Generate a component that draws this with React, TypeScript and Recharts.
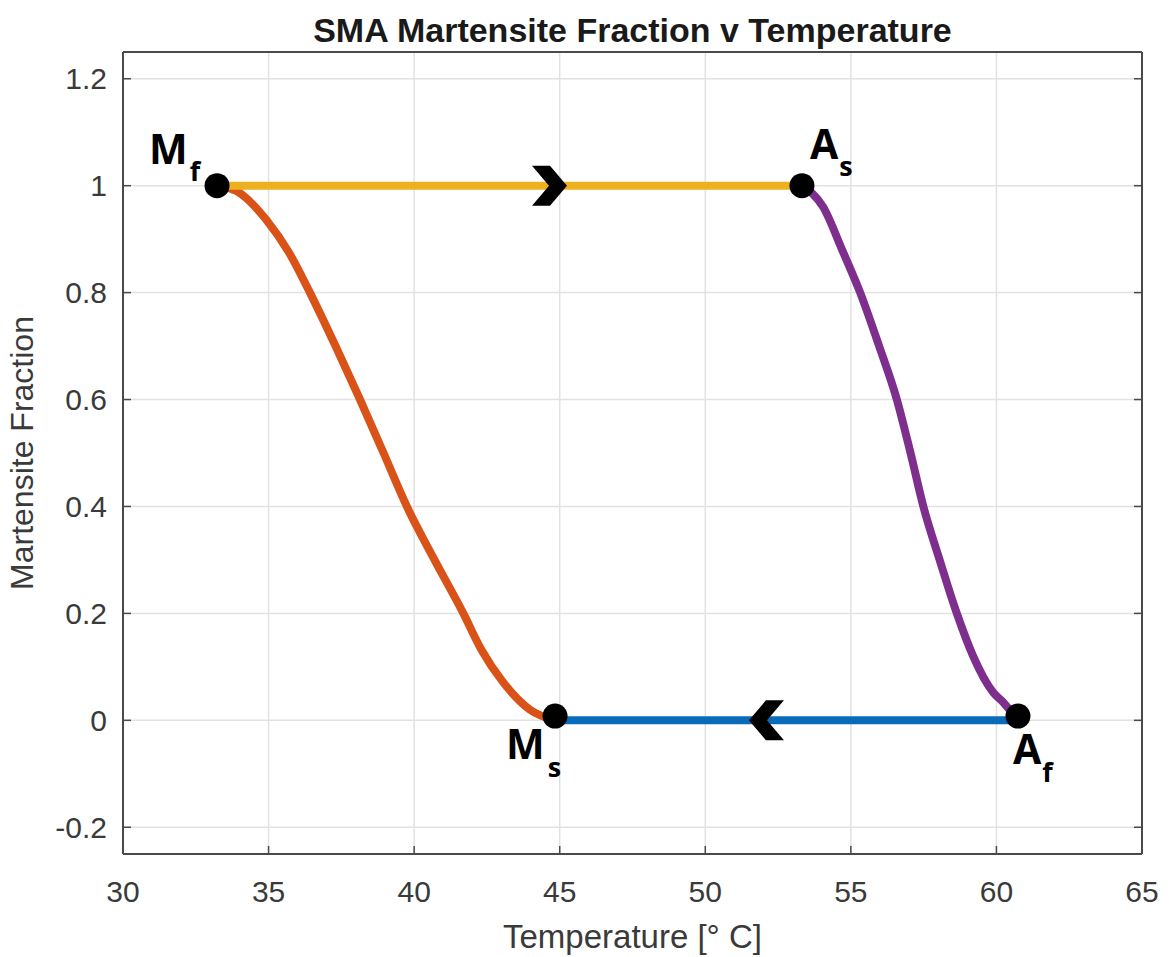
import React from "react"
import { ComposedChart, Line, Scatter, XAxis, YAxis, CartesianGrid } from "recharts"

// axis ticks
const xTicks = [30, 35, 40, 45, 50, 55, 60, 65]
const yTicks = [-0.2, 0, 0.2, 0.4, 0.6, 0.8, 1, 1.2]

// cooling: martensite forms (Ms -> Mf)
const coolTemp = [33.23, 33.9, 34.94, 35.7, 36.42, 37.3, 38.14, 38.95, 39.75, 40.7, 41.69, 42.3, 43.06, 43.98, 44.84]
const coolFrac = [1, 0.99, 0.935, 0.875, 0.8, 0.7, 0.6, 0.5, 0.4, 0.3, 0.2, 0.133, 0.071, 0.02, 0]

// heating: austenite forms (As -> Af)
const heatTemp = [53.32, 54.05, 54.7, 55.32, 55.97, 56.58, 57.05, 57.49, 58.05, 58.64, 59.2, 59.89, 60.23, 60.74]
const heatFrac = [1, 0.96, 0.88, 0.8, 0.7, 0.6, 0.5, 0.4, 0.3, 0.2, 0.12, 0.052, 0.034, 0]

// flat segments
const topTemp = [33.23, 53.32]
const topFrac = [1, 1]
const bottomTemp = [44.84, 60.74]
const bottomFrac = [0, 0]

// transition points
const pointName = ["M", "A", "M", "A"]
const pointSub = ["f", "s", "s", "f"]
const pointTemp = [33.23, 53.32, 44.84, 60.74]
const pointFrac = [1, 1, 0.008, 0.008]

// direction arrows
const arrowTemp = [45.25, 51.5]
const arrowFrac = [1, 0]
const arrowDir = ["right", "left"]

const zip = (ts: number[], fs: number[]) => ts.map((t, i) => ({ t, f: fs[i] }))

const coolData = zip(coolTemp, coolFrac)
const heatData = zip(heatTemp, heatFrac)
const topData = zip(topTemp, topFrac)
const bottomData = zip(bottomTemp, bottomFrac)
const pointData = pointTemp.map((t, i) => ({ t, f: pointFrac[i], name: pointName[i], sub: pointSub[i] }))
const arrowData = arrowTemp.map((t, i) => ({ t, f: arrowFrac[i], dir: arrowDir[i] }))

const FONT = "'Liberation Sans', Arial, Helvetica, sans-serif"
const TEXT = "#3a3a3a"
const AXIS = "#4a4a4a"
const TICK_LEN = 8
const LINE_W = 8

// label placement around each dot, in px
const labelOffsets: Record<string, { dx: number; dy: number; sx: number; sy: number }> = {
  Mf: { dx: -68, dy: -22, sx: 2, sy: 17 },
  As: { dx: 8, dy: -27, sx: 1, sy: 17 },
  Ms: { dx: -49, dy: 43, sx: 3, sy: 18 },
  Af: { dx: -5, dy: 48, sx: 1, sy: 18 },
}

const LeftTick = (props: any) => {
  const { x, y, payload } = props
  return (
    <g>
      <line x1={x + 16} y1={y} x2={x + 16 + TICK_LEN} y2={y} stroke={AXIS} strokeWidth={1.5} />
      <text x={x} y={y} dy="0.355em" textAnchor="end" fill={TEXT} fontSize={30} fontFamily={FONT}>
        {payload.value}
      </text>
    </g>
  )
}

const BottomTick = (props: any) => {
  const { x, y, payload } = props
  return (
    <g>
      <line x1={x} y1={y - 27} x2={x} y2={y - 27 - TICK_LEN} stroke={AXIS} strokeWidth={1.5} />
      <text x={x} y={y} dy="0.71em" textAnchor="middle" fill={TEXT} fontSize={30} fontFamily={FONT}>
        {payload.value}
      </text>
    </g>
  )
}

const TopTick = (props: any) => {
  const { x, y } = props
  return <line x1={x} y1={y} x2={x} y2={y + TICK_LEN} stroke={AXIS} strokeWidth={1.5} />
}

const RightTick = (props: any) => {
  const { x, y } = props
  return <line x1={x - TICK_LEN} y1={y} x2={x} y2={y} stroke={AXIS} strokeWidth={1.5} />
}

const TransitionDot = (props: any) => {
  const { cx, cy, payload } = props
  if (cx == null || cy == null) return null
  const o = labelOffsets[payload.name + payload.sub]
  return (
    <g>
      <circle cx={cx} cy={cy} r={12.5} fill="#000" />
      <text
        x={cx + o.dx}
        y={cy + o.dy}
        fill="#000"
        fontFamily="'Open Sans', 'Noto Sans', sans-serif"
        fontWeight="bold"
        fontSize={41}
      >
        {payload.name}
        <tspan dx={o.sx} dy={o.sy} fontSize={27}>
          {payload.sub}
        </tspan>
      </text>
    </g>
  )
}

const Chevron = (props: any) => {
  const { cx, cy, payload } = props
  if (cx == null || cy == null) return null
  const s = payload.dir === "right" ? 1 : -1
  const pts = [
    [-35, -20],
    [-17, -20],
    [0, 0],
    [-17, 20],
    [-35, 20],
    [-18, 0],
  ]
    .map(([px, py]) => `${cx + s * px},${cy + py}`)
    .join(" ")
  return <polygon points={pts} fill="#000" />
}

export default function App() {
  return (
    <div style={{ position: "absolute", left: 0, top: 0, background: "#fff" }}>
      <ComposedChart width={1172} height={957} margin={{ top: 51, right: 29, bottom: 0, left: 0 }}>
        <CartesianGrid stroke="#e2e2e2" strokeWidth={1.5} />
        <XAxis
          dataKey="t"
          type="number"
          domain={[30, 65]}
          ticks={xTicks}
          allowDataOverflow
          height={103}
          tickSize={0}
          tickMargin={27}
          tickLine={false}
          tick={<BottomTick />}
          axisLine={{ stroke: AXIS, strokeWidth: 2 }}
          label={{
            value: "Temperature [° C]",
            position: "insideBottom",
            offset: 9,
            fill: TEXT,
            fontSize: 33,
            fontFamily: FONT,
          }}
        />
        <XAxis
          xAxisId="top"
          orientation="top"
          type="number"
          domain={[30, 65]}
          ticks={xTicks}
          allowDataOverflow
          height={1}
          tickSize={0}
          tickMargin={0}
          tickLine={false}
          tick={<TopTick />}
          axisLine={{ stroke: AXIS, strokeWidth: 2 }}
          label={{
            value: "SMA Martensite Fraction v Temperature",
            position: "top",
            offset: 9,
            fill: "#1a1a1a",
            fontSize: 34,
            fontWeight: "bold",
            fontFamily: FONT,
          }}
        />
        <YAxis
          type="number"
          domain={[-0.25, 1.25]}
          ticks={yTicks}
          allowDataOverflow
          width={123}
          tickSize={0}
          tickMargin={16}
          tickLine={false}
          tick={<LeftTick />}
          axisLine={{ stroke: AXIS, strokeWidth: 2 }}
          label={{
            value: "Martensite Fraction",
            angle: -90,
            position: "insideLeft",
            offset: 22,
            fill: TEXT,
            fontSize: 32,
            fontFamily: FONT,
            style: { textAnchor: "middle" },
          }}
        />
        <YAxis
          yAxisId="right"
          orientation="right"
          type="number"
          domain={[-0.25, 1.25]}
          ticks={yTicks}
          allowDataOverflow
          width={1}
          tickSize={0}
          tickMargin={0}
          tickLine={false}
          tick={<RightTick />}
          axisLine={{ stroke: AXIS, strokeWidth: 2 }}
        />
        <Line data={coolData} dataKey="f" type="monotoneX" stroke="#D95319" strokeWidth={LINE_W} dot={false} activeDot={false} isAnimationActive={false} strokeLinejoin="round" />
        <Line data={heatData} dataKey="f" type="monotoneX" stroke="#7E2F8E" strokeWidth={LINE_W} dot={false} activeDot={false} isAnimationActive={false} strokeLinejoin="round" />
        <Line data={bottomData} dataKey="f" type="linear" stroke="#0A6CB8" strokeWidth={LINE_W} dot={false} activeDot={false} isAnimationActive={false} />
        <Line data={topData} dataKey="f" type="linear" stroke="#EDB120" strokeWidth={LINE_W} dot={false} activeDot={false} isAnimationActive={false} />
        <Scatter data={arrowData} dataKey="f" shape={<Chevron />} isAnimationActive={false} />
        <Scatter data={pointData} dataKey="f" shape={<TransitionDot />} isAnimationActive={false} />
      </ComposedChart>
    </div>
  )
}
